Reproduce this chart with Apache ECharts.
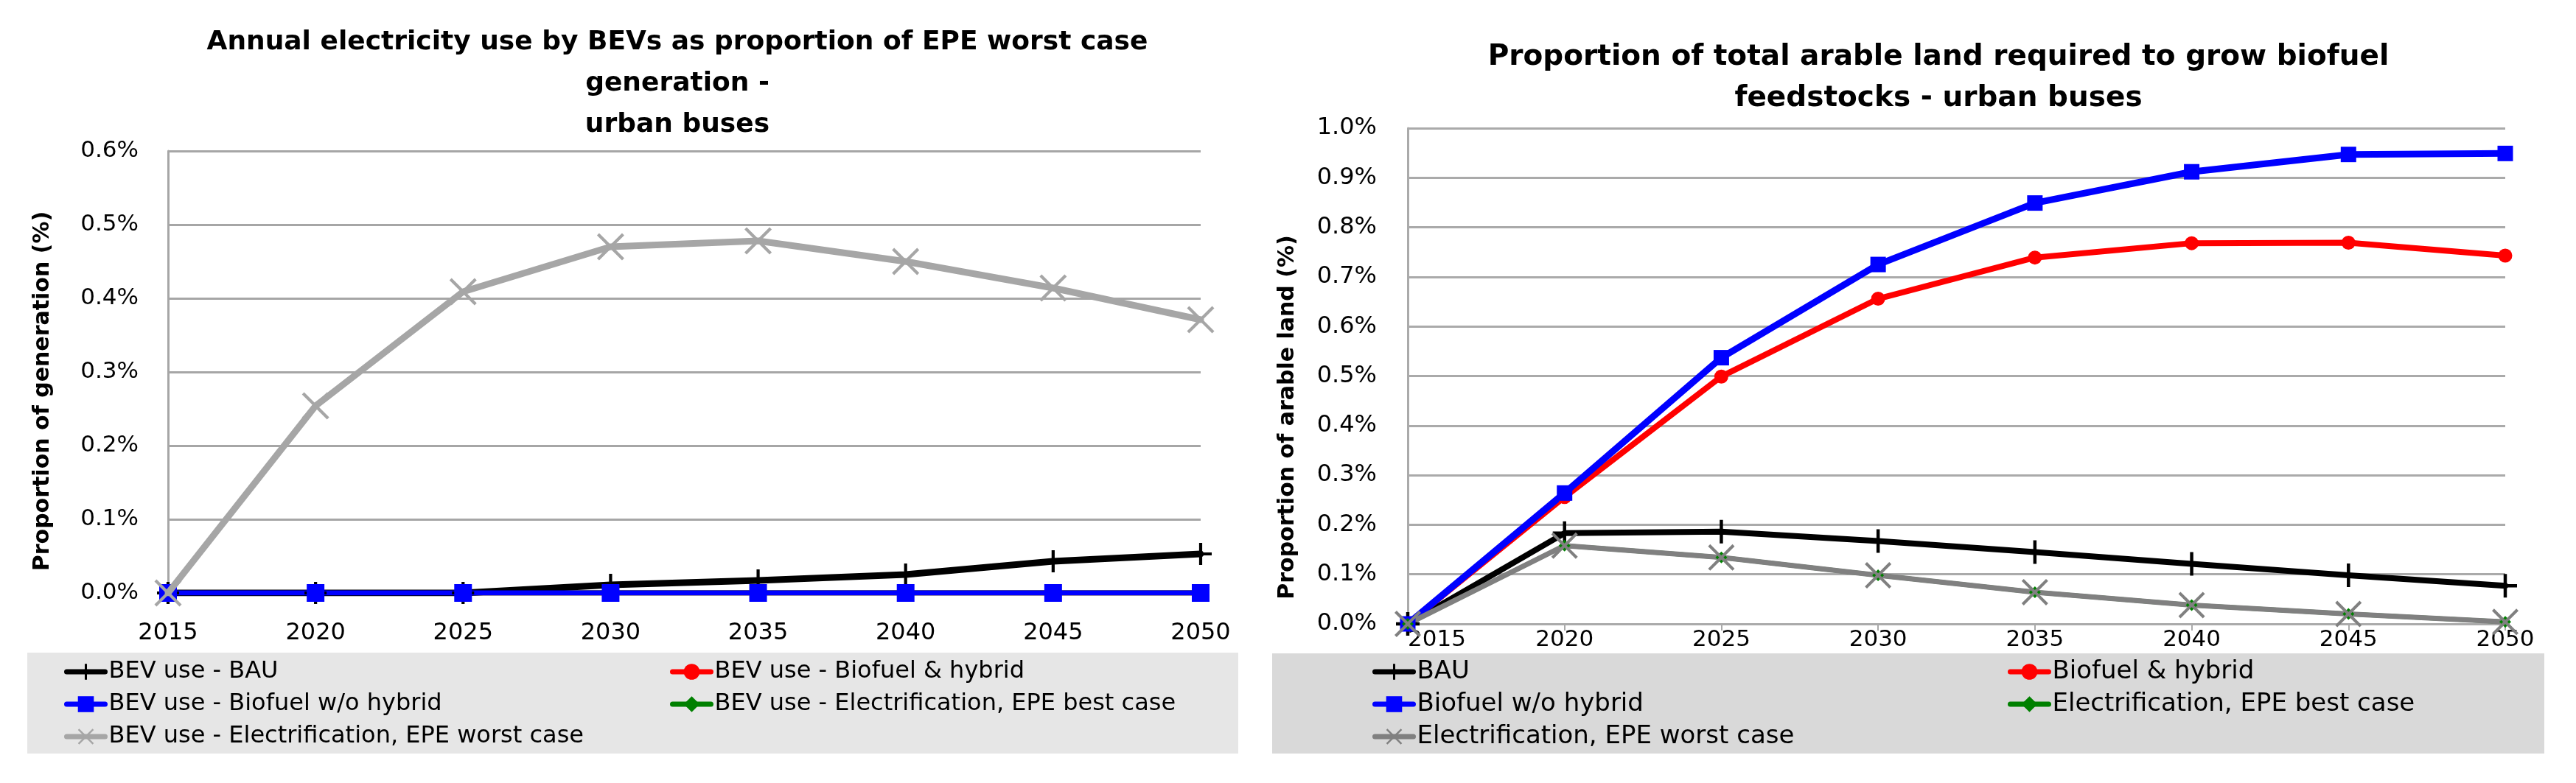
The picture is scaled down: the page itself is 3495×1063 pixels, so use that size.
<!DOCTYPE html>
<html>
<head>
<meta charset="utf-8">
<title>BEV electricity use and biofuel land - urban buses</title>
<script src="https://cdn.jsdelivr.net/npm/echarts@6/dist/echarts.min.js"></script>
<style>
    html, body { margin: 0; padding: 0; background: #fff; }
    #main { width: 3495px; height: 1063px; }
</style>
</head>
<body>
<div id="main"></div>
<script>
// categories
var years = ['2015', '2020', '2025', '2030', '2035', '2040', '2045', '2050'];

// left chart: BEV electricity use as % of EPE worst case generation
var elecBau = [0, 0, 0, 0.011, 0.017, 0.025, 0.043, 0.053];
var elecBioHybrid = [0, 0, 0, 0, 0, 0, 0, 0];
var elecBioNoHybrid = [0, 0, 0, 0, 0, 0, 0, 0];
var elecBest = [0, 0, 0, 0, 0, 0, 0, 0];
var elecWorst = [0, 0.254, 0.409, 0.470, 0.478, 0.450, 0.414, 0.371];

// right chart: % of arable land needed for biofuel feedstocks
var landBau = [0, 0.183, 0.186, 0.167, 0.145, 0.121, 0.098, 0.077];
var landBioHybrid = [0, 0.256, 0.499, 0.656, 0.739, 0.768, 0.769, 0.743];
var landBioNoHybrid = [0, 0.264, 0.537, 0.725, 0.849, 0.912, 0.947, 0.949];
var landBest = [0, 0.158, 0.134, 0.098, 0.064, 0.038, 0.020, 0.004];
var landWorst = [0, 0.158, 0.134, 0.098, 0.064, 0.038, 0.020, 0.004];

// y axis ranges (percent)
var elecMax = 0.6, landMax = 1.0, yStep = 0.1;

var plusPath = 'path://M43,0H57V43H100V57H57V100H43V57H0V43H43Z';
var crossPath = 'path://M0,8L8,0L50,42L92,0L100,8L58,50L100,92L92,100L50,58L8,100L0,92L42,50Z';

function mkLine(name, data, idx, color, symbol, size, width, z) {
    return {
        name: name,
        type: 'line',
        xAxisIndex: idx,
        yAxisIndex: idx,
        z: z || 2,
        data: data,
        symbol: symbol,
        symbolSize: size,
        showAllSymbol: true,
        lineStyle: { color: color, width: width, join: 'round', cap: 'round' },
        itemStyle: { color: color },
        emphasis: { disabled: true }
    };
}

function mkLegend(left, size, names) {
    return {
        left: left, top: 890, orient: 'vertical',
        itemWidth: 52, itemHeight: 27, itemGap: 0, padding: 0,
        lineStyle: { width: 7, cap: 'round' },
        textStyle: { fontFamily: labelFont, fontSize: size, lineHeight: 44, color: '#000' },
        data: names
    };
}

var myChart = echarts.init(document.getElementById('main'));
var labelFont = 'DejaVu Sans';
var pct = function(v) { return v.toFixed(1) + '%'; };

var option = {
    animation: false,
    backgroundColor: '#fff',
    title: [
        {
            text: 'Annual electricity use by BEVs as proportion of EPE worst case\ngeneration -\nurban buses',
            left: 919, top: 30, textAlign: 'center', padding: 0,
            textStyle: { fontFamily: labelFont, fontWeight: 'bold', fontSize: 36, lineHeight: 56, color: '#000' }
        },
        {
            text: 'Proportion of total arable land required to grow biofuel\nfeedstocks - urban buses',
            left: 2630, top: 50, textAlign: 'center', padding: 0,
            textStyle: { fontFamily: labelFont, fontWeight: 'bold', fontSize: 39, lineHeight: 56, color: '#000' }
        }
    ],
    graphic: [
        { type: 'rect', z: -1, shape: { x: 37, y: 886, width: 1643, height: 137 }, style: { fill: '#e6e6e6' } },
        { type: 'rect', z: -1, shape: { x: 1726, y: 887, width: 1726, height: 136 }, style: { fill: '#d9d9d9' } }
    ],
    legend: [
        mkLegend(87, 32, ['BEV use - BAU', 'BEV use - Biofuel w/o hybrid', 'BEV use - Electrification, EPE worst case']),
        mkLegend(909, 32, ['BEV use - Biofuel & hybrid', 'BEV use - Electrification, EPE best case']),
        mkLegend(1862, 34, ['BAU', 'Biofuel w/o hybrid', 'Electrification, EPE worst case']),
        mkLegend(2724, 34, ['Biofuel & hybrid', 'Electrification, EPE best case'])
    ],
    grid: [
        { left: 228, top: 205, width: 1401, height: 600 },
        { left: 1910, top: 174, width: 1489, height: 673 }
    ],
    xAxis: [
        {
            gridIndex: 0, type: 'category', data: years, boundaryGap: false,
            axisLine: { lineStyle: { color: '#a6a6a6', width: 3 } },
            axisTick: { length: 9, lineStyle: { color: '#a6a6a6', width: 2 } },
            axisLabel: { margin: 39, color: '#000', fontFamily: labelFont, fontSize: 32 },
            splitLine: { show: false }
        },
        {
            gridIndex: 1, type: 'category', data: years, boundaryGap: false,
            axisLine: { lineStyle: { color: '#aaaaaa', width: 3 } },
            axisTick: { length: 9, lineStyle: { color: '#aaaaaa', width: 2 } },
            axisLabel: { margin: 6, color: '#000', fontFamily: labelFont, fontSize: 31, alignMinLabel: 'left' },
            splitLine: { show: false }
        }
    ],
    yAxis: [
        {
            gridIndex: 0, type: 'value', min: 0, max: elecMax, interval: yStep,
            name: 'Proportion of generation (%)', nameLocation: 'middle', nameRotate: 90, nameGap: 155,
            nameTextStyle: { fontFamily: labelFont, fontWeight: 'bold', fontSize: 30, color: '#000', padding: [0, 52, 0, 0] },
            axisLine: { show: true, lineStyle: { color: '#a6a6a6', width: 3 } },
            axisTick: { show: false },
            axisLabel: { margin: 40, color: '#000', fontFamily: labelFont, fontSize: 31, formatter: pct },
            splitLine: { lineStyle: { color: '#a6a6a6', width: 3 } }
        },
        {
            gridIndex: 1, type: 'value', min: 0, max: landMax, interval: yStep,
            name: 'Proportion of arable land (%)', nameLocation: 'middle', nameRotate: 90, nameGap: 148,
            nameTextStyle: { fontFamily: labelFont, fontWeight: 'bold', fontSize: 30, color: '#000', padding: [0, 112, 0, 0] },
            axisLine: { show: true, lineStyle: { color: '#aaaaaa', width: 3 } },
            axisTick: { show: false },
            axisLabel: { margin: 42, color: '#000', fontFamily: labelFont, fontSize: 32, formatter: pct },
            splitLine: { lineStyle: { color: '#aaaaaa', width: 3 } }
        }
    ],
    series: [
        mkLine('BEV use - BAU', elecBau, 0, '#000000', plusPath, 30, 9, 3),
        mkLine('BEV use - Biofuel & hybrid', elecBioHybrid, 0, '#ff0000', 'circle', 18, 7, 1),
        mkLine('BEV use - Biofuel w/o hybrid', elecBioNoHybrid, 0, '#0000ff', 'rect', 24, 7, 3),
        mkLine('BEV use - Electrification, EPE best case', elecBest, 0, '#008000', 'diamond', 16, 7, 1),
        mkLine('BEV use - Electrification, EPE worst case', elecWorst, 0, '#a6a6a6', crossPath, 37, 9, 4),

        mkLine('BAU', landBau, 1, '#000000', plusPath, 32, 8),
        mkLine('Biofuel & hybrid', landBioHybrid, 1, '#ff0000', 'circle', 19, 8),
        mkLine('Biofuel w/o hybrid', landBioNoHybrid, 1, '#0000ff', 'rect', 21, 9),
        mkLine('Electrification, EPE best case', landBest, 1, '#008000', 'diamond', 16, 6),
        mkLine('Electrification, EPE worst case', landWorst, 1, '#808080', crossPath, 36, 7)
    ]
};
myChart.setOption(option);
</script>
</body>
</html>
